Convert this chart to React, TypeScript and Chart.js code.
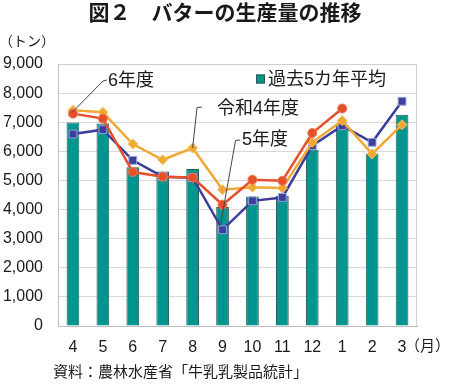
import React, { useEffect, useRef } from "react";
import { Chart, registerables } from "chart.js";

Chart.register(...registerables);

const months = ["4", "5", "6", "7", "8", "9", "10", "11", "12", "1", "2", "3"];
const avg5 = [6990, 6960, 5450, 5310, 5390, 4085, 4450, 4475, 6055, 6915, 5920, 7260];
const fy5 = [6595, 6745, 5690, 5130, 5095, 3305, 4300, 4415, 6195, 6880, 6310, 7720];
const fy6 = [7295, 7125, 5290, 5130, 5100, 4165, 5025, 4990, 6630, 7470, null, null];
const fyR4 = [7410, 7340, 6250, 5710, 6115, 4680, 4770, 4740, 6310, 7055, 5910, 6915];
const yTicks = [0, 1000, 2000, 3000, 4000, 5000, 6000, 7000, 8000, 9000];

const TITLE = "図２　バターの生産量の推移";
const UNIT_Y = "（トン）";
const UNIT_X = "（月）";
const SOURCE = "資料：農林水産省「牛乳乳製品統計」";
const LEGEND_LABEL = "過去5カ年平均";
const LABEL_FY6 = "6年度";
const LABEL_R4 = "令和4年度";
const LABEL_FY5 = "5年度";

const FONT = '"Liberation Sans", "Noto Sans CJK JP", sans-serif';
const TEXT = "#1a1a1a";

const BAR_FILL = "#00968f";
const BAR_EDGE = "#2a5a55";
const BLUE = "#3d3d9c";
const RED = "#e5502b";
const ORANGE = "#f0a832";

export default function App() {
  const ref = useRef<HTMLCanvasElement | null>(null);

  useEffect(() => {
    if (!ref.current) return;

    const decor = {
      id: "decor",
      afterDatasetsDraw(chart: any) {
        const ctx = chart.ctx;
        const { left, right, top, bottom } = chart.chartArea;
        const xs = chart.scales.x;
        const ys = chart.scales.y;
        ctx.save();
        // plot frame
        ctx.strokeStyle = "#cfcfcf";
        ctx.lineWidth = 1;
        ctx.beginPath();
        ctx.moveTo(left, top + 0.5);
        ctx.lineTo(right - 0.5, top + 0.5);
        ctx.lineTo(right - 0.5, bottom);
        ctx.stroke();

        // legend
        ctx.fillStyle = BAR_FILL;
        ctx.fillRect(256, 74.5, 9, 9);
        ctx.strokeStyle = BAR_EDGE;
        ctx.strokeRect(256.5, 75, 8, 8);
        ctx.fillStyle = TEXT;
        ctx.font = `18px ${FONT}`;
        ctx.textBaseline = "middle";
        ctx.textAlign = "left";
        ctx.fillText(LEGEND_LABEL, 268, 80);

        // annotations with leader lines
        const pt = (i: number, arr: (number | null)[]) => [
          xs.getPixelForValue(i),
          ys.getPixelForValue(arr[i] as number),
        ];
        ctx.strokeStyle = "#444";
        ctx.lineWidth = 1;
        const [ax, ay] = pt(0, fy6);
        ctx.beginPath();
        ctx.moveTo(107, 80);
        ctx.lineTo(103, 81);
        ctx.lineTo(ax, ay - 2);
        ctx.stroke();
        ctx.fillText(LABEL_FY6, 108, 81);

        const [bx, by] = pt(4, fyR4);
        ctx.beginPath();
        ctx.moveTo(202, 107);
        ctx.lineTo(197, 107.5);
        ctx.lineTo(bx, by);
        ctx.stroke();
        ctx.fillText(LABEL_R4, 217, 109);

        const [cx, cy] = pt(5, fy5);
        ctx.beginPath();
        ctx.moveTo(240, 140);
        ctx.lineTo(235.5, 140.5);
        ctx.lineTo(cx - 2, cy - 5);
        ctx.stroke();
        ctx.fillText(LABEL_FY5, 242, 140);
        ctx.restore();
      },
      afterDraw(chart: any) {
        const ctx = chart.ctx;
        ctx.save();
        ctx.fillStyle = TEXT;
        ctx.textBaseline = "middle";
        ctx.textAlign = "center";
        ctx.font = `bold 21px ${FONT}`;
        ctx.fillText(TITLE, 225, 14);
        ctx.textAlign = "left";
        ctx.font = `14px ${FONT}`;
        ctx.fillText(UNIT_Y, -1, 42);
        ctx.font = `15px ${FONT}`;
        ctx.fillText(UNIT_X, 405, 347);
        ctx.fillText(SOURCE, 53, 373);
        ctx.restore();
      },
    };

    const chart = new Chart(ref.current, {
      type: "bar",
      data: {
        labels: months,
        datasets: [
          {
            type: "line",
            label: "令和6年度",
            data: fy6,
            borderColor: RED,
            backgroundColor: RED,
            borderWidth: 2.5,
            pointStyle: "circle",
            pointRadius: 4.5,
            pointBorderColor: "#f07a55",
            pointBorderWidth: 1,
            order: 1,
          } as any,
          {
            type: "line",
            label: "令和4年度",
            data: fyR4,
            borderColor: ORANGE,
            backgroundColor: ORANGE,
            borderWidth: 2.5,
            pointStyle: "rectRot",
            pointRadius: 5,
            pointBorderColor: "#f6c060",
            pointBorderWidth: 1,
            order: 2,
          } as any,
          {
            type: "line",
            label: "令和5年度",
            data: fy5,
            borderColor: BLUE,
            backgroundColor: BLUE,
            borderWidth: 2.5,
            pointStyle: "rect",
            pointRadius: 5.5,
            pointBorderColor: "#8fa3dc",
            pointBorderWidth: 1,
            order: 3,
          } as any,
          {
            type: "bar",
            label: LEGEND_LABEL,
            data: avg5,
            backgroundColor: BAR_FILL,
            borderColor: BAR_EDGE,
            borderWidth: 1,
            categoryPercentage: 0.85,
            barPercentage: 0.5,
            order: 4,
          } as any,
        ],
      },
      options: {
        responsive: false,
        animation: false,
        devicePixelRatio: 1,
        layout: { padding: { left: 0, right: 33, top: 64, bottom: 0 } },
        plugins: {
          legend: { display: false },
          tooltip: { enabled: false },
          title: { display: false },
        },
        scales: {
          x: {
            grid: { display: false, drawTicks: false },
            border: { color: "#bfbfbf" },
            ticks: {
              color: TEXT,
              font: { family: FONT, size: 16 },
              padding: 12,
              maxRotation: 0,
              autoSkip: false,
            },
            afterFit: (s: any) => {
              s.height = 58;
            },
          },
          y: {
            min: 0,
            max: 9000,
            afterBuildTicks: (s: any) => {
              s.ticks = yTicks.map((v) => ({ value: v }));
            },
            grid: { color: "#d9d9d9", drawTicks: false },
            border: { color: "#bfbfbf" },
            ticks: {
              color: TEXT,
              font: { family: FONT, size: 16 },
              padding: 15,
              callback: (v: any) => Number(v).toLocaleString("en-US"),
            },
            afterFit: (s: any) => {
              s.width = 58;
            },
          },
        },
      },
      plugins: [decor],
    });
    return () => chart.destroy();
  }, []);

  return (
    <div style={{ position: "fixed", left: 0, top: 0, width: 450, height: 384, background: "#fff" }}>
      <canvas ref={ref} width={450} height={384} style={{ width: 450, height: 384, display: "block" }} />
    </div>
  );
}
